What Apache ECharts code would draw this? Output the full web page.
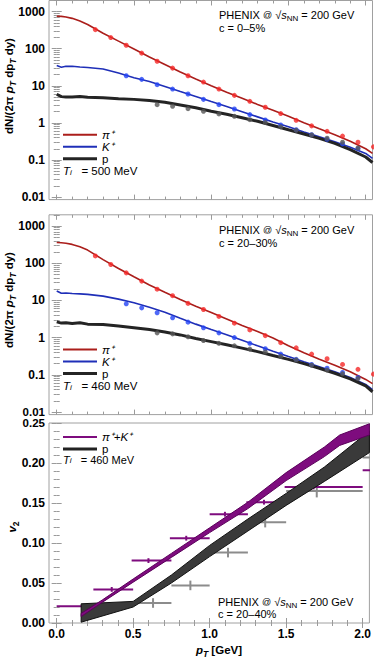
<!DOCTYPE html>
<html><head><meta charset="utf-8">
<script src="https://cdn.jsdelivr.net/npm/echarts@6/dist/echarts.min.js"></script>
<style>html,body{margin:0;padding:0;background:#fff}#c{width:374px;height:657px}</style>
</head><body><div id="c"></div>
<script>
// ---------- tick labels ----------
const X_TICKS = [0, 0.5, 1, 1.5, 2];
const X_LABELS = ['0.0', '0.5', '1.0', '1.5', '2.0'];
const X_MINOR = [0.1,0.2,0.3,0.4,0.6,0.7,0.8,0.9,1.1,1.2,1.3,1.4,1.6,1.7,1.8,1.9];
const LOG_TICKS = [0.01, 0.1, 1, 10, 100, 1000];
const LOG_LABELS = ['0.01', '0.1', '1', '10', '100', '1000'];
const V_TICKS = [0, 0.05, 0.1, 0.15, 0.2, 0.25];
const V_LABELS = ['0.00', '0.05', '0.10', '0.15', '0.20', '0.25'];
const V_MINOR = [0.01,0.02,0.03,0.04,0.06,0.07,0.08,0.09,0.11,0.12,0.13,0.14,0.16,0.17,0.18,0.19,0.21,0.22,0.23,0.24];

// ---------- model curves (spectra) ----------
const curvePt = [0,0.03,0.06,0.1,0.15,0.2,0.3,0.4,0.5,0.6,0.7,0.8,0.9,1.0,1.1,1.2,1.3,1.4,1.5,1.6,1.7,1.8,1.9,2.0,2.044];
// panel 1: c = 0-5%
const piLine1 = [750,745,720,660,560,450,262,160,98,60,37.5,23.5,15.2,10,6.7,4.6,3.15,2.2,1.5,1.0,0.69,0.48,0.32,0.2,0.15];
const kLine1  = [35,31.5,33.5,33.5,32,31,28.5,22,16.5,13,9.6,7.0,5.15,3.75,2.75,2.0,1.45,1.05,0.78,0.57,0.42,0.31,0.22,0.15,0.11];
const pLine1  = [5.9,5.1,4.95,5.0,5.15,4.9,4.75,4.5,4.3,4.0,3.6,3.05,2.55,2.05,1.7,1.38,1.1,0.85,0.65,0.5,0.38,0.28,0.19,0.12,0.085];
// panel 2: c = 20-30%
const piLine2 = [360,355,345,320,275,225,125,72,43,26,16.5,10.6,7.0,4.7,3.15,2.1,1.45,0.97,0.6,0.39,0.26,0.18,0.12,0.075,0.058];
const kLine2  = [17.9,15.5,15.8,15.3,15,14.5,13,10.8,8.6,6.5,4.8,3.3,2.3,1.65,1.2,0.85,0.6,0.43,0.31,0.225,0.165,0.12,0.085,0.055,0.04];
const pLine2  = [2.65,2.45,2.5,2.4,2.5,2.3,2.25,2.05,1.85,1.65,1.42,1.18,0.95,0.78,0.64,0.52,0.42,0.33,0.26,0.2,0.15,0.11,0.078,0.05,0.035];

// ---------- PHENIX spectra data ----------
const piPt = [0.25,0.35,0.45,0.55,0.65,0.75,0.85,0.95,1.05,1.15,1.25,1.35,1.45,1.55,1.65,1.75,1.85,1.95,2.05];
const kPt  = [0.45,0.55,0.65,0.75,0.85,0.95,1.05,1.15,1.25,1.35,1.45,1.55,1.65,1.75,1.85,1.95];
const pPt  = [0.65,0.75,0.85,0.95,1.05,1.15,1.25,1.35,1.45,1.55,1.65,1.75,1.85,1.95];
const piData1 = [328,200,124,76,46,30,18.7,12.6,8.15,5.52,3.81,2.63,1.78,1.17,0.83,0.59,0.44,0.30,0.225];
const kData1  = [18.7,14.9,10.7,8.15,6.0,4.3,3.1,2.37,1.67,1.2,0.88,0.65,0.48,0.36,0.27,0.2];
const pData1  = [3.1,2.8,2.42,2.05,1.74,1.5,1.22,1.02,0.78,0.63,0.47,0.385,0.30,0.21];
const piData2 = [157,92,55,33,20,13.4,8.3,5.7,3.7,2.44,1.61,1.13,0.73,0.53,0.36,0.27,0.19,0.14,0.104];
const kData2  = [8.1,6.3,4.65,3.4,2.6,1.83,1.34,1.0,0.70,0.50,0.36,0.26,0.19,0.15,0.115,0.085];
const pData2  = [1.34,1.26,1.05,0.83,0.70,0.60,0.49,0.41,0.31,0.25,0.18,0.134,0.106,0.079];

// ---------- v2 model bands ----------
const bandPt   = [0.16,0.3,0.5,0.75,1.0,1.25,1.5,1.75,1.85,2.044];
const pkBandLo = [0.008,0.026,0.051,0.082,0.113,0.143,0.178,0.208,0.222,0.235];
const pkBandHi = [0.012,0.029,0.055,0.087,0.119,0.151,0.188,0.220,0.235,0.249];
const pBandPt  = [0.16,0.5,0.75,1.0,1.25,1.5,1.75,2.044];
const pBandLo  = [0.001,0.020,0.050,0.083,0.115,0.147,0.177,0.213];
const pBandHi  = [0.024,0.027,0.060,0.097,0.130,0.162,0.195,0.240];

// ---------- v2 data ----------
const pkV2Pt  = [0.20,0.36,0.60,0.847,1.10,1.355,1.68,2.2];
const pkV2    = [0.021,0.042,0.078,0.106,0.136,0.151,0.170,0.191];
const pkV2Lo  = [0.0,0.24,0.49,0.74,1.0,1.24,1.49,2.0];
const pkV2Hi  = [0.25,0.5,0.75,1.0,1.25,1.49,2.0,2.5];
const pkV2Err = [0.003,0.003,0.003,0.003,0.003,0.003,0.003,0.003];
const pV2Pt   = [0.63,0.874,1.12,1.363,1.70,2.2];
const pV2     = [0.025,0.047,0.088,0.126,0.165,0.207];
const pV2Lo   = [0.49,0.75,1.0,1.25,1.5,2.0];
const pV2Hi   = [0.75,1.0,1.25,1.5,2.0,2.5];
const pV2Err  = [0.006,0.006,0.006,0.0065,0.008,0.008];

// ---------- styling ----------
const FONT = '"Liberation Sans", Arial, Helvetica, sans-serif';
const TICK = '#9a9a9a';
const C = {redLine:'#ab1e1b', redDot:'#f52828', blueLine:'#1f2fb8', blueDot:'#2344f5',
           blackLine:'#242424', grayDot:'#555555', purple:'#7e0c7e', band:'#3a3a3a', grayBar:'#8c8c8c'};
const X_MIN = -0.05, X_MAX = 2.044;
const LOG_MIN = 0.0085, LOG_MAX = 2000;
const grids = [
  {left:49, top:0.5, width:323.5, height:199.1},
  {left:49, top:214.8, width:323.5, height:199.8},
  {left:49, top:423, width:323.5, height:200}
];
// thin legend line: invisible moveTo points set a 3px-tall box, the stroke fills 2px of it
const THIN = 'path://M0,0M0,3M0,0.5H34V2.5H0Z';
const THICK = 'path://M0,0H34V3H0Z';

function logMinor() {
  const out = [];
  [0.01,0.1,1,10,100,1000].forEach(d => { for (let m = 2; m <= 9; m++) { const v = +(m*d).toPrecision(3); if (v < LOG_MAX) out.push(v); } });
  out.push(2000);
  return out;
}
const LOG_MINOR = logMinor();

const xAxes = [], yAxes = [];
function labelStyle(extra) {
  return Object.assign({color:'#000', fontWeight:'bold', fontSize:12, fontFamily:FONT, lineHeight:10}, extra);
}
const logFmt = v => LOG_LABELS[LOG_TICKS.findIndex(t => Math.abs(Math.log10(t) - Math.log10(v)) < 1e-6)];
const vFmt = v => V_LABELS[V_TICKS.findIndex(t => Math.abs(t - v) < 1e-6)];
grids.forEach((g, gi) => {
  [['bottom', X_TICKS, 5, gi === 2], ['bottom', X_MINOR, 3, false], ['top', X_TICKS, 5, false], ['top', X_MINOR, 3, false]]
  .forEach(([pos, ticks, len, lab]) => {
    xAxes.push({type:'value', gridIndex:gi, position:pos, min:X_MIN, max:X_MAX,
      axisLine:{show:false}, splitLine:{show:false},
      axisTick:{show:true, inside:true, length:len, customValues:ticks, lineStyle:{color:TICK, width:1}},
      axisLabel: lab ? labelStyle({show:true, margin:6, customValues:X_TICKS,
        formatter: v => X_LABELS[X_TICKS.findIndex(t => Math.abs(t - v) < 1e-6)]}) : {show:false}});
  });
  const isLog = gi < 2;
  const maj = isLog ? LOG_TICKS : V_TICKS, mnr = isLog ? LOG_MINOR : V_MINOR;
  // labels that sit right at the gap between panels 2 and 3 are drawn by separate axes below
  const labVals = gi === 1 ? LOG_TICKS.slice(1) : gi === 2 ? V_TICKS.slice(0, -1) : maj;
  [['left', maj, 5, true], ['left', mnr, 3, false], ['right', maj, 5, false], ['right', mnr, 3, false]]
  .forEach(([pos, ticks, len, lab]) => {
    const ax = {gridIndex:gi, position:pos,
      axisLine:{show:false}, splitLine:{show:false},
      axisTick:{show:true, inside:true, length:len, customValues:ticks, lineStyle:{color:TICK, width:1}},
      axisLabel: lab ? labelStyle({show:true, margin:4, customValues:labVals,
        formatter: isLog ? logFmt : vFmt}) : {show:false}};
    if (isLog) Object.assign(ax, {type:'log', logBase:10, min:LOG_MIN, max:LOG_MAX});
    else Object.assign(ax, {type:'value', min:0, max:0.25});
    yAxes.push(ax);
  });
});
// "0.01" of panel 2 nudged up, "0.25" of panel 3 nudged down so they do not collide
yAxes.push({type:'log', logBase:10, min:LOG_MIN, max:LOG_MAX, gridIndex:1, position:'left',
  axisLine:{show:false}, splitLine:{show:false}, axisTick:{show:false},
  axisLabel:labelStyle({show:true, margin:4, fontSize:11.5, customValues:[0.01], formatter:logFmt, padding:[0,0,5,0]})});
yAxes.push({type:'value', min:0, max:0.25, gridIndex:2, position:'left',
  axisLine:{show:false}, splitLine:{show:false}, axisTick:{show:false},
  axisLabel:labelStyle({show:true, margin:4, fontSize:11.5, customValues:[0.25], formatter:vFmt, padding:[5,0,0,0]})});

const zip = (xs, ys) => xs.map((x, i) => [x, ys[i]]);
const series = [];
function spectra(gi, piL, kL, pL, piD, kD, pD) {
  const xi = gi*4, yi = gi*4;
  const line = (name, data, color, w) => ({type:'line', name, xAxisIndex:xi, yAxisIndex:yi, data:zip(curvePt, data),
    symbol:'none', showSymbol:false, lineStyle:{color, width:w}, itemStyle:{color}, z:2, silent:true, animation:false});
  const dots = (name, xs, data, color, clip) => ({type:'scatter', name, xAxisIndex:xi, yAxisIndex:yi, data:zip(xs, data),
    symbol:'circle', symbolSize:5, itemStyle:{color}, z:3, clip, animation:false});
  series.push(line('π⁺', piL, C.redLine, 1.6), line('K⁺', kL, C.blueLine, 1.6), line('p', pL, C.blackLine, 3));
  series.push(dots('PHENIX π⁺ ' + gi, piPt, piD, C.redDot, false), dots('PHENIX K⁺ ' + gi, kPt, kD, C.blueDot, true),
              dots('PHENIX p ' + gi, pPt, pD, C.grayDot, true));
}
spectra(0, piLine1, kLine1, pLine1, piData1, kData1, pData1);
spectra(1, piLine2, kLine2, pLine2, piData2, kData2, pData2);

function bandSeries(name, xs, lo, hi, fill, stroke, z) {
  return {type:'custom', name, xAxisIndex:8, yAxisIndex:8, z, clip:true, animation:false,
    itemStyle:{color:fill},
    data: xs.map((x, i) => [x, lo[i], hi[i]]),
    encode:{x:0, y:[1,2]},
    renderItem: (params, api) => {
      if (params.dataIndex !== 0) return null;
      const pts = [];
      for (let i = 0; i < xs.length; i++) pts.push(api.coord([xs[i], lo[i]]));
      for (let i = xs.length - 1; i >= 0; i--) pts.push(api.coord([xs[i], hi[i]]));
      return {type:'polygon', shape:{points:pts}, style:{fill, stroke, lineWidth:1}};
    }};
}
function errSeries(name, xs, ys, lo, hi, err, color, z) {
  return {type:'custom', name, xAxisIndex:8, yAxisIndex:8, z, clip:true, animation:false,
    itemStyle:{color},
    data: xs.map((x, i) => [x, ys[i], lo[i], hi[i], err[i]]),
    encode:{x:0, y:1},
    renderItem: (params, api) => {
      const xc = api.value(0), v = api.value(1), xl = api.value(2), xh = api.value(3), e = api.value(4);
      const a = api.coord([xl, v]), b = api.coord([xh, v]), c = api.coord([xc, v - e]), d = api.coord([xc, v + e]);
      return {type:'group', children:[
        {type:'line', shape:{x1:a[0], y1:a[1], x2:b[0], y2:b[1]}, style:{stroke:color, lineWidth:2}},
        {type:'line', shape:{x1:c[0], y1:c[1], x2:d[0], y2:d[1]}, style:{stroke:color, lineWidth:2}}]};
    }};
}
series.push(errSeries('PHENIX p v2', pV2Pt, pV2, pV2Lo, pV2Hi, pV2Err, C.grayBar, 2));
series.push(errSeries('PHENIX π⁺+K⁺ v2', pkV2Pt, pkV2, pkV2Lo, pkV2Hi, pkV2Err, C.purple, 2));
series.push(bandSeries('p band', pBandPt, pBandLo, pBandHi, C.band, '#111', 4));
series.push(bandSeries('π⁺+K⁺', bandPt, pkBandLo, pkBandHi, C.purple, '#5a005a', 5));

const legText = {fontSize:11.5, fontFamily:FONT, color:'#000', lineHeight:12};
const specLegend = top => ({top, left:63, orient:'vertical', itemWidth:34, itemHeight:3, itemGap:0, padding:0,
   selectedMode:false, textStyle:legText,
   data:[{name:'π⁺', icon:THIN, textStyle:{fontStyle:'italic'}}, {name:'K⁺', icon:THIN, textStyle:{fontStyle:'italic'}},
         {name:'p', icon:THICK}]});
const legends = [
  specLegend(128.7),
  specLegend(343.5),
  {top:431, left:63, orient:'vertical', itemWidth:34, itemHeight:3, itemGap:0, padding:0, selectedMode:false,
   textStyle:Object.assign({}, legText, {lineHeight:10.5}),
   data:[{name:'π⁺+K⁺', icon:THIN, textStyle:{fontStyle:'italic'}}, {name:'p band', icon:THICK, itemStyle:{color:'#222'}}],
   formatter: n => n === 'p band' ? 'p' : n}
];

const rich = {
  n:{fontSize:11, fontFamily:FONT, color:'#000', lineHeight:11},
  at:{fontSize:9, fontFamily:FONT, color:'#000', lineHeight:11},
  i:{fontSize:11, fontFamily:FONT, fontStyle:'italic', color:'#000', lineHeight:11},
  sub:{fontSize:8, fontFamily:FONT, color:'#000', lineHeight:11, verticalAlign:'bottom', padding:[0,0,-2,0]},
  t:{fontSize:11.5, fontFamily:FONT, fontStyle:'italic', color:'#000', lineHeight:10},
  ti:{fontSize:8, fontFamily:FONT, fontStyle:'italic', color:'#000', lineHeight:10, verticalAlign:'bottom'},
  tn:{fontSize:11.5, fontFamily:FONT, color:'#000', lineHeight:10},
  t3:{fontSize:11, fontFamily:FONT, fontStyle:'italic', color:'#000', lineHeight:10},
  tn3:{fontSize:11, fontFamily:FONT, color:'#000', lineHeight:10},
  b:{fontSize:11.5, fontFamily:FONT, fontWeight:'bold', color:'#000', lineHeight:16},
  bi:{fontSize:11.5, fontFamily:FONT, fontWeight:'bold', fontStyle:'italic', color:'#000', lineHeight:16},
  bs:{fontSize:8.5, fontFamily:FONT, fontWeight:'bold', fontStyle:'italic', color:'#000', lineHeight:16, verticalAlign:'bottom'},
  bs2:{fontSize:8.5, fontFamily:FONT, fontWeight:'bold', color:'#000', lineHeight:16, verticalAlign:'bottom'}
};
function txt(x, y, text, opts) {
  return Object.assign({type:'text', x, y, silent:true, z:100,
    style:{text, rich, align:'left', verticalAlign:'middle', fill:'#000'}}, opts || {});
}
const phenix = '{n|PHENIX }{at|@}{n| √}{i|s}{sub|NN}{n| = 200 GeV}';
const yTitle = '{b|dN/(2π }{bi|p}{bs|T}{b| dp}{bs|T}{b| dy)}';
const centered = t => ({style:{text:t, rich, align:'center', verticalAlign:'middle'}});
const graphics = [
  txt(219, 15, phenix), txt(219, 27.5, '{n|c = 0–5%}'),
  txt(219, 230, phenix), txt(219, 243, '{n|c = 20–30%}'),
  txt(218, 601.5, phenix), txt(218, 613.5, '{n|c = 20–40%}'),
  txt(63, 171, '{t|T}{ti|i}{tn|   = 500 MeV}'),
  txt(63, 386, '{t|T}{ti|i}{tn|   = 460 MeV}'),
  txt(63, 459.5, '{t3|T}{ti|i}{tn3|   = 460 MeV}'),
  Object.assign(txt(9, 86, yTitle), {rotation:Math.PI/2}, centered(yTitle)),
  Object.assign(txt(9, 300, yTitle), {rotation:Math.PI/2}, centered(yTitle)),
  Object.assign(txt(12, 527, '{bi|v}{bs2|2}'), {rotation:Math.PI/2}, centered('{bi|v}{bs2|2}')),
  Object.assign(txt(219, 650, '{bi|p}{bs|T}{b| [GeV]}'), centered('{bi|p}{bs|T}{b| [GeV]}'))
];

const chart = echarts.init(document.getElementById('c'), null, {renderer:'svg'});
chart.setOption({
  animation:false,
  backgroundColor:'#fff',
  grid: grids.map(g => Object.assign({show:true, borderColor:'#a0a0a0', borderWidth:1, backgroundColor:'transparent', containLabel:false}, g)),
  xAxis: xAxes,
  yAxis: yAxes,
  legend: legends,
  series,
  graphic: graphics
});
</script></body></html>
